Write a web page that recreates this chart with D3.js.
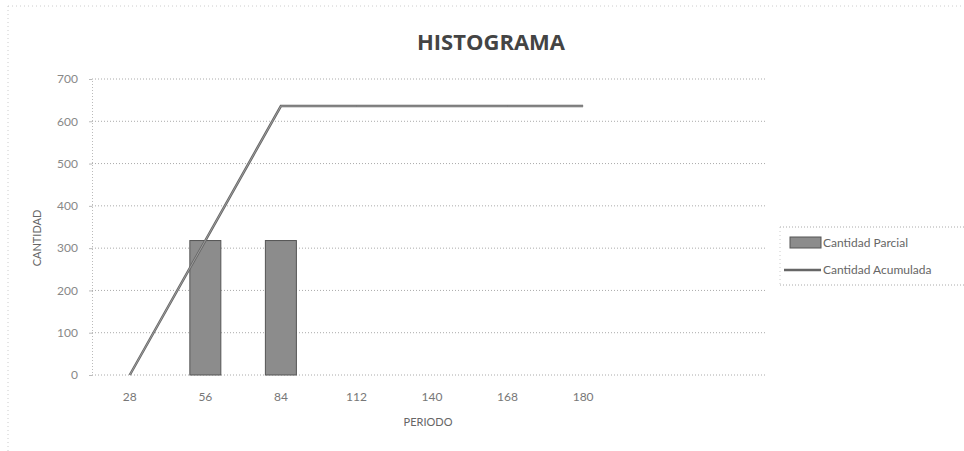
<!DOCTYPE html>
<html><head><meta charset="utf-8">
<script src="https://cdn.jsdelivr.net/npm/d3@7"></script>
<style>body{margin:0;background:#fff;} svg{display:block;}</style>
</head><body><svg id="c" width="964" height="451"></svg>
<script>
const categories = ["28","56","84","112","140","168","180","",""];
const parcial = [0, 318, 318, null, null, null, null, null, null];
const acumulada = [0, 318, 636, 636, 636, 636, 636, null, null];
const yTicks = [0,100,200,300,400,500,600,700];
const seriesNames = ["Cantidad Parcial","Cantidad Acumulada"];

const svg = d3.select("#c");
const font = "Lato, 'Open Sans', sans-serif";
const m = {left:92, right:964-772, top:79, bottom:451-375};
const W = 964, H = 451;

const x = d3.scaleBand().domain(d3.range(categories.length)).range([m.left, W-m.right]).paddingInner(0).paddingOuter(0);
const y = d3.scaleLinear().domain([0,700]).range([H-m.bottom, m.top]);

// faint chart-area border
svg.append("line").attr("x1",8).attr("x2",8).attr("y1",6).attr("y2",451).attr("stroke","#ccc").attr("stroke-dasharray","1,3");
svg.append("line").attr("x1",8).attr("x2",964).attr("y1",6).attr("y2",6).attr("stroke","#ccc").attr("stroke-dasharray","1,3");

// gridlines
svg.append("g").selectAll("line").data(yTicks).join("line")
  .attr("x1",m.left).attr("x2",766).attr("y1",d=>y(d)).attr("y2",d=>y(d))
  .attr("stroke","#aaa").attr("stroke-width",1).attr("stroke-dasharray","1,2");

// y axis
const ya = svg.append("g").attr("transform",`translate(${m.left},0)`)
  .call(d3.axisLeft(y).tickValues(yTicks).tickSize(3).tickPadding(11));
ya.select(".domain").attr("stroke","#bbb").attr("stroke-dasharray","1,2");
ya.selectAll(".tick line").attr("stroke","#bbb");
ya.selectAll("text").attr("font-family",font).attr("font-size",12).attr("fill","#888");

// x axis labels
const xa = svg.append("g").attr("transform",`translate(0,${y(0)})`)
  .call(d3.axisBottom(x).tickFormat(i=>categories[i]).tickSize(0).tickPadding(17));
xa.select(".domain").remove();
xa.selectAll("text").attr("font-family",font).attr("font-size",12).attr("fill","#777");

// bars
const bw = 31;
svg.append("g").selectAll("rect").data(parcial.map((v,i)=>({v,i})).filter(d=>d.v))
  .join("rect")
  .attr("x",d=>x(d.i)+x.bandwidth()/2-bw/2).attr("width",bw)
  .attr("y",d=>y(d.v)).attr("height",d=>y(0)-y(d.v))
  .attr("fill","#8c8c8c").attr("stroke","#555").attr("stroke-width",1);

// line
const line = d3.line().defined(d=>d.v!==null).x(d=>x(d.i)+x.bandwidth()/2).y(d=>y(d.v));
svg.append("path").datum(acumulada.map((v,i)=>({v,i})))
  .attr("d",line).attr("fill","none").attr("stroke","#666").attr("stroke-width",2.5);
svg.append("path").datum(acumulada.map((v,i)=>({v,i})))
  .attr("d",line).attr("fill","none").attr("stroke","#aaa").attr("stroke-width",0.8);

// title
svg.append("text").attr("x",491).attr("y",50).attr("text-anchor","middle")
  .attr("font-family","'Open Sans', sans-serif").attr("font-weight","bold").attr("font-size",22)
  .attr("fill","#444").text("HISTOGRAMA");

// axis titles
svg.append("text").attr("transform","translate(41,238) rotate(-90)").attr("text-anchor","middle")
  .attr("font-family",font).attr("font-size",11).attr("fill","#666").text("CANTIDAD");
svg.append("text").attr("x",428).attr("y",426).attr("text-anchor","middle")
  .attr("font-family",font).attr("font-size",11).attr("fill","#666").text("PERIODO");

// legend
const lg = svg.append("g");
lg.append("line").attr("x1",780).attr("x2",964).attr("y1",227).attr("y2",227).attr("stroke","#aaa").attr("stroke-dasharray","1,2");
lg.append("line").attr("x1",780).attr("x2",964).attr("y1",285).attr("y2",285).attr("stroke","#aaa").attr("stroke-dasharray","1,2");
lg.append("line").attr("x1",780).attr("x2",780).attr("y1",227).attr("y2",285).attr("stroke","#ccc").attr("stroke-dasharray","1,3");
lg.append("rect").attr("x",790).attr("y",237).attr("width",31).attr("height",11).attr("fill","#8c8c8c").attr("stroke","#555");
lg.append("line").attr("x1",784).attr("x2",821).attr("y1",270).attr("y2",270).attr("stroke","#666").attr("stroke-width",2.5);
lg.append("text").attr("x",823).attr("y",247).attr("font-family",font).attr("font-size",12).attr("fill","#666").text(seriesNames[0]);
lg.append("text").attr("x",823).attr("y",274).attr("font-family",font).attr("font-size",12).attr("fill","#666").text(seriesNames[1]);
</script></body></html>
